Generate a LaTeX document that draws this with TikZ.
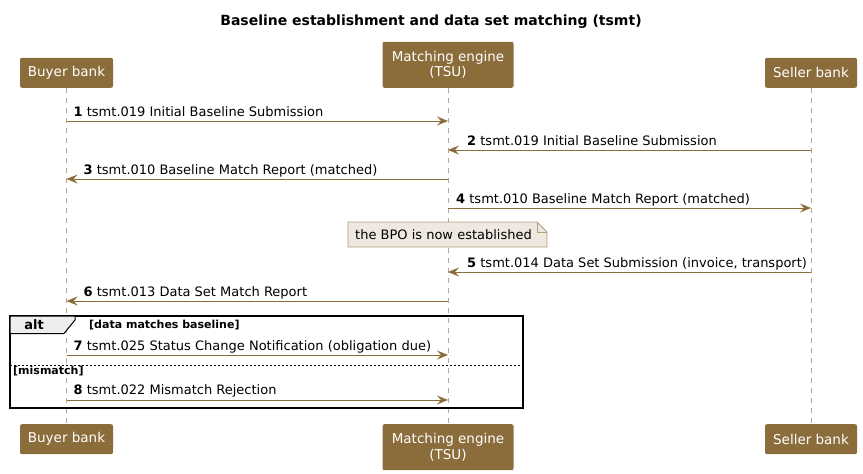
\documentclass[tikz,border=0pt]{standalone}
\usepackage{fontspec}
\setmainfont{DejaVu Sans}
\usetikzlibrary{arrows.meta,positioning}

\definecolor{boxbrown}{HTML}{8B6D3B}
\definecolor{lifegrey}{HTML}{B5A68C}
\definecolor{notefill}{HTML}{EFE8E1}
\definecolor{noteline}{HTML}{B59D7A}
\definecolor{tabgrey}{HTML}{EEEEEE}

\begin{document}
\begin{tikzpicture}[x=1pt,y=-1pt,
    actor/.style={fill=boxbrown,rounded corners=2pt,text=white,align=center,
      font=\fontsize{13.5}{15.5}\selectfont,minimum height=30pt,inner sep=3pt},
    life/.style={lifegrey,dash pattern=on 5pt off 5pt,line width=0.6pt},
    msg/.style={boxbrown,line width=0.9pt,-{Stealth[length=11pt,width=9pt,inset=4pt]}},
    lbl/.style={anchor=base west,inner sep=0pt,font=\fontsize{13}{15}\selectfont},
    guard/.style={anchor=base west,inner sep=0pt,font=\bfseries\fontsize{11}{13}\selectfont}]
  \useasboundingbox (0,0) rectangle (863,474);

  % title
  \node[font=\bfseries\fontsize{14}{16}\selectfont] (title) at (431,22)
    {Baseline establishment and data set matching (tsmt)};

  % participants, top and bottom
  \node[actor,anchor=south,minimum width=93pt] (buyer) at (66.5,88) {Buyer bank};
  \node[actor,anchor=south,minimum width=131pt,minimum height=46pt] (tsu) at (448,88)
    {Matching engine\\(TSU)};
  \node[actor,anchor=south,minimum width=92pt] (seller) at (811,88) {Seller bank};
  \node[actor,anchor=north,minimum width=93pt] (buyerB) at (66.5,424) {Buyer bank};
  \node[actor,anchor=north,minimum width=131pt,minimum height=46pt] (tsuB) at (448,424)
    {Matching engine\\(TSU)};
  \node[actor,anchor=north,minimum width=92pt] (sellerB) at (811,424) {Seller bank};

  \draw[life] (buyer.south) -- (buyerB.north);
  \draw[life] (tsu.south) -- (tsuB.north);
  \draw[life] (seller.south) -- (sellerB.north);

  % message end points on the lifelines
  \foreach \n/\y in {1/121,2/150,3/179,4/208,5/272,6/301,7/355,8/400}{
    \coordinate (b\n) at (buyer.south |- 0,\y);
    \coordinate (t\n) at (tsu.south |- 0,\y);
    \coordinate (s\n) at (seller.south |- 0,\y);
  }

  % alt frame
  \draw[line width=1.5pt] (10,316) rectangle (523,408);
  \draw[fill=tabgrey,line width=1pt] (10,316) -- (75,316) -- (75,320) -- (64,333.5)
    -- (10,333.5) -- cycle;
  \node[font=\bfseries\fontsize{13}{15}\selectfont,inner sep=0pt] (alt) at (34,325) {alt};
  \node[guard] (g1) at (89,328.5) {[data matches baseline]};
  \draw[dash pattern=on 2pt off 2pt,line width=0.6pt] (10,365) -- (523,365);
  \node[guard] (g2) at (13,374) {[mismatch]};

  % messages
  \draw[msg] (b1) -- (t1);
  \node[lbl] (m1) at ([xshift=7pt,yshift=5pt]b1) {\textbf{1} tsmt.019 Initial Baseline Submission};
  \draw[msg] (s2) -- (t2);
  \node[lbl] (m2) at ([xshift=19pt,yshift=5pt]t2) {\textbf{2} tsmt.019 Initial Baseline Submission};
  \draw[msg] (t3) -- (b3);
  \node[lbl] (m3) at ([xshift=17pt,yshift=5pt]b3) {\textbf{3} tsmt.010 Baseline Match Report (matched)};
  \draw[msg] (t4) -- (s4);
  \node[lbl] (m4) at ([xshift=8pt,yshift=5pt]t4) {\textbf{4} tsmt.010 Baseline Match Report (matched)};

  % note
  \draw[noteline,fill=notefill,line width=0.8pt] (348,222) -- (537,222) -- (547,232)
    -- (547,247) -- (348,247) -- cycle;
  \draw[noteline,line width=0.8pt] (537,222) -- (537,232) -- (547,232);
  \node[lbl] (note) at (355,239) {the BPO is now established};

  \draw[msg] (s5) -- (t5);
  \node[lbl] (m5) at ([xshift=19pt,yshift=5pt]t5) {\textbf{5} tsmt.014 Data Set Submission (invoice, transport)};
  \draw[msg] (t6) -- (b6);
  \node[lbl] (m6) at ([xshift=17pt,yshift=5pt]b6) {\textbf{6} tsmt.013 Data Set Match Report};
  \draw[msg] (b7) -- (t7);
  \node[lbl] (m7) at ([xshift=7pt,yshift=5pt]b7) {\textbf{7} tsmt.025 Status Change Notification (obligation due)};
  \draw[msg] (b8) -- (t8);
  \node[lbl] (m8) at ([xshift=7pt,yshift=6pt]b8) {\textbf{8} tsmt.022 Mismatch Rejection};
\end{tikzpicture}
\end{document}
